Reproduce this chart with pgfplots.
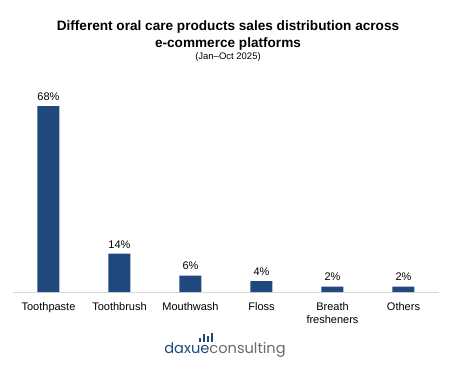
\documentclass[border=0pt]{standalone}
\usepackage{fontspec}
\setmainfont{Liberation Sans}
\newfontfamily\logofont{Poppins}
\usepackage{pgfplots}
\pgfplotsset{compat=1.18}
\definecolor{barblue}{RGB}{31,73,125}
\definecolor{axisgray}{RGB}{217,217,217}
\definecolor{logogray}{RGB}{105,105,105}
\begin{document}
\begin{tikzpicture}
\path[use as bounding box] (0pt,0pt) rectangle (456pt,-370pt);
\begin{axis}[
  at={(13pt,-292pt)}, anchor=south west,
  scale only axis, width=426pt, height=218.8pt,
  xmin=-0.5, xmax=5.5, ymin=0, ymax=80,
  axis y line=none,
  axis x line*=bottom,
  x axis line style={draw=axisgray, line width=0.8pt, -},
  xtick=data, xtick style={draw=none},
  xticklabels={Toothpaste,Toothbrush,Mouthwash,Floss,Breath\\fresheners,Others},
  xticklabel style={font=\fontsize{11}{12.5}\selectfont, align=center, text width=80pt, anchor=north, yshift=-7pt},
  ticklabel style={/pgf/number format/assume math mode=true},
  nodes near coords={\pgfmathprintnumber{\pgfplotspointmeta}\%},
  nodes near coords style={font=\fontsize{11}{12}\selectfont, text=black, /pgf/number format/assume math mode=true, yshift=2pt},
  clip=false,
]
\addplot[ybar, bar width=22pt, fill=barblue, draw=none] coordinates {
(0,68) (1,14) (2,6) (3,4) (4,2) (5,2)};
\end{axis}
\node[font=\bfseries\fontsize{13.6}{17}\selectfont, align=center] at (228pt,-35pt) {Different oral care products sales distribution across\\e-commerce platforms};
\node[font=\fontsize{9.5}{10}\selectfont] at (228pt,-57.5pt) {(Jan--Oct 2025)};
\node[font=\logofont\fontsize{14.6}{16}\selectfont, inner sep=0pt, anchor=base] at (225pt,-353pt) {\textcolor{barblue}{daxue}\textcolor{logogray}{consulting}};
\fill[barblue] (199pt,-342pt) rectangle (201pt,-338pt);
\fill[barblue] (203pt,-342pt) rectangle (205pt,-334pt);
\fill[barblue] (207pt,-342pt) rectangle (209pt,-336pt);
\fill[barblue] (211pt,-342pt) rectangle (213pt,-333pt);
\end{tikzpicture}
\end{document}
